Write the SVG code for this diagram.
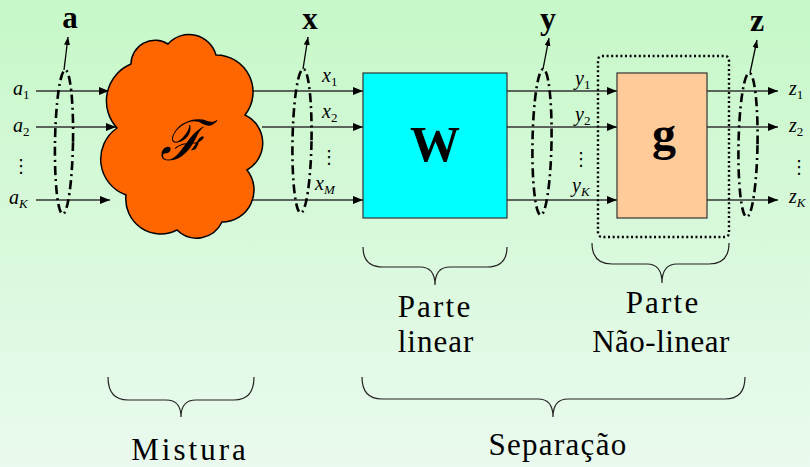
<svg xmlns="http://www.w3.org/2000/svg" width="810" height="467" viewBox="0 0 810 467">
<defs>
<linearGradient id="bg" x1="0" y1="0" x2="0" y2="1">
<stop offset="0" stop-color="#c6f8c8"/>
<stop offset="1" stop-color="#eafaee"/>
</linearGradient>
<marker id="ah" markerUnits="userSpaceOnUse" markerWidth="11" markerHeight="9" refX="10" refY="4" orient="auto">
<path d="M0,0 L10,4 L0,8 z" fill="#000"/>
</marker>
<marker id="ahs" markerUnits="userSpaceOnUse" markerWidth="9" markerHeight="7" refX="8" refY="3" orient="auto">
<path d="M0,0 L8,3 L0,6 z" fill="#000"/>
</marker>
</defs>
<style>
.ln{stroke:#333;stroke-width:1.5;fill:none;marker-end:url(#ah)}
.up{stroke:#000;stroke-width:1.3;fill:none;marker-end:url(#ahs)}
.ell{fill:none;stroke:#000;stroke-width:2.6;stroke-dasharray:9 4 2 4}
.brace{fill:none;stroke:#222;stroke-width:1.2}
.v{font-family:'Liberation Serif','DejaVu Serif',serif;font-style:italic;font-size:20px;fill:#000}
.sub{font-size:13px}
.subn{font-size:13px;font-style:normal}
.dots{font-family:'DejaVu Sans',sans-serif;font-size:18px;fill:#000;text-anchor:middle}
.bold{font-family:'Liberation Serif','DejaVu Serif',serif;font-weight:bold;fill:#000;text-anchor:middle}
.lbl{font-family:'Liberation Serif','DejaVu Serif',serif;font-size:31px;fill:#000;text-anchor:middle}
</style>
<rect x="0" y="0" width="810" height="467" fill="url(#bg)"/>

<g id="connectors">
<line class="ln" x1="36" y1="91" x2="109" y2="91"/>
<line class="ln" x1="36" y1="127" x2="116" y2="127"/>
<line class="ln" x1="36" y1="200" x2="110" y2="200"/>
<line class="ln" x1="252" y1="91" x2="363" y2="91"/>
<line class="ln" x1="262" y1="127" x2="363" y2="127"/>
<line class="ln" x1="250" y1="200" x2="363" y2="200"/>
<line class="ln" x1="507" y1="91" x2="617" y2="91"/>
<line class="ln" x1="507" y1="127" x2="617" y2="127"/>
<line class="ln" x1="507" y1="200" x2="617" y2="200"/>
<line class="ln" x1="707" y1="91" x2="778" y2="91"/>
<line class="ln" x1="707" y1="127" x2="778" y2="127"/>
<line class="ln" x1="707" y1="200" x2="778" y2="200"/>
<line class="up" x1="64" y1="70" x2="68" y2="37"/>
<line class="up" x1="303" y1="69" x2="308" y2="37"/>
<line class="up" x1="543" y1="69" x2="549" y2="38"/>
<line class="up" x1="750" y1="73" x2="757" y2="40"/>
</g>

<g id="vec-a">
<ellipse class="ell" cx="64" cy="142" rx="9" ry="72" transform="rotate(1 64 142)"/>
<text class="bold" x="70" y="28" font-size="31">a</text>
<text class="v" x="13" y="95">a<tspan class="subn" dy="4">1</tspan></text>
<text class="v" x="13" y="132">a<tspan class="subn" dy="4">2</tspan></text>
<text class="dots" x="21" y="172">⋮</text>
<text class="v" x="9" y="204">a<tspan class="sub" dy="4">K</tspan></text>
</g>

<g id="mixing-F">
<path d="M131,64 A24,24 0 0 1 168,44 A28,28 0 0 1 216,55 A37,37 0 0 1 245,115 A31,31 0 0 1 247,170 A32,32 0 0 1 222,222 A28,28 0 0 1 177,230 A35,35 0 0 1 126,195 A38,38 0 0 1 117,128 A40,40 0 0 1 131,64 Z" fill="#ff6600" stroke="#000" stroke-width="1.5"/>
<text x="183" y="160" font-family="'DejaVu Serif', serif" font-style="italic" font-size="56" text-anchor="middle" fill="#000">ℱ</text>
</g>

<g id="vec-x">
<ellipse class="ell" cx="302" cy="141" rx="9.5" ry="72" transform="rotate(1 302 141)"/>
<text class="bold" x="310" y="29" font-size="31">x</text>
<text class="v" x="322" y="82">x<tspan class="subn" dy="4">1</tspan></text>
<text class="v" x="322" y="118">x<tspan class="subn" dy="4">2</tspan></text>
<text class="dots" x="329" y="163">⋮</text>
<text class="v" x="315" y="190">x<tspan class="sub" dy="4">M</tspan></text>
</g>

<g id="W">
<rect x="363" y="73" width="144" height="145" fill="#00ffff" stroke="#333" stroke-width="1.2"/>
<text class="bold" x="435" y="161" font-size="50">W</text>
</g>

<g id="vec-y">
<ellipse class="ell" cx="542" cy="142" rx="9.5" ry="73" transform="rotate(1 542 142)"/>
<text class="bold" x="548" y="29" font-size="32">y</text>
<text class="v" x="575" y="85">y<tspan class="subn" dy="4">1</tspan></text>
<text class="v" x="575" y="121">y<tspan class="subn" dy="4">2</tspan></text>
<text class="dots" x="581" y="165">⋮</text>
<text class="v" x="572" y="192">y<tspan class="sub" dy="4">K</tspan></text>
</g>

<g id="g">
<rect x="598" y="56" width="131" height="181" rx="4" fill="none" stroke="#000" stroke-width="2.4" stroke-dasharray="2 2.6"/>
<rect x="617" y="73" width="90" height="145" fill="#ffcc99" stroke="#333" stroke-width="1.2"/>
<text class="bold" x="664" y="150" font-size="48">g</text>
</g>

<g id="vec-z">
<ellipse class="ell" cx="748" cy="145" rx="9.5" ry="72" transform="rotate(1 748 145)"/>
<text class="bold" x="757" y="31" font-size="32">z</text>
<text class="v" x="789" y="95">z<tspan class="subn" dy="4">1</tspan></text>
<text class="v" x="789" y="132">z<tspan class="subn" dy="4">2</tspan></text>
<text class="dots" x="799" y="173">⋮</text>
<text class="v" x="789" y="203">z<tspan class="sub" dy="4">K</tspan></text>
</g>

<g id="brace-linear">
<path class="brace" d="M363,247 Q363,267 383,267 L420,267 Q435,267 435,285 Q435,267 450,267 L487,267 Q507,267 507,247"/>
<text class="lbl" x="435" y="317" letter-spacing="2.2">Parte</text>
<text class="lbl" x="436" y="352" letter-spacing="1">linear</text>
</g>

<g id="brace-nonlinear">
<path class="brace" d="M592,243 Q592,264 612,264 L647,264 Q662,264 662,283 Q662,264 677,264 L709,264 Q729,264 729,243"/>
<text class="lbl" x="663" y="313" letter-spacing="2.2">Parte</text>
<text class="lbl" x="661" y="352" letter-spacing="0.5">Não-linear</text>
</g>

<g id="brace-mistura">
<path class="brace" d="M108,377 Q108,400 128,400 L166,400 Q181,400 181,417 Q181,400 196,400 L234,400 Q254,400 254,377"/>
<text class="lbl" x="190" y="460" letter-spacing="3">Mistura</text>
</g>

<g id="brace-separacao">
<path class="brace" d="M362,377 Q362,399 382,399 L538,399 Q553,399 553,417 Q553,399 568,399 L725,399 Q745,399 745,377"/>
<text class="lbl" x="558" y="455" letter-spacing="1.3">Separação</text>
</g>
</svg>
